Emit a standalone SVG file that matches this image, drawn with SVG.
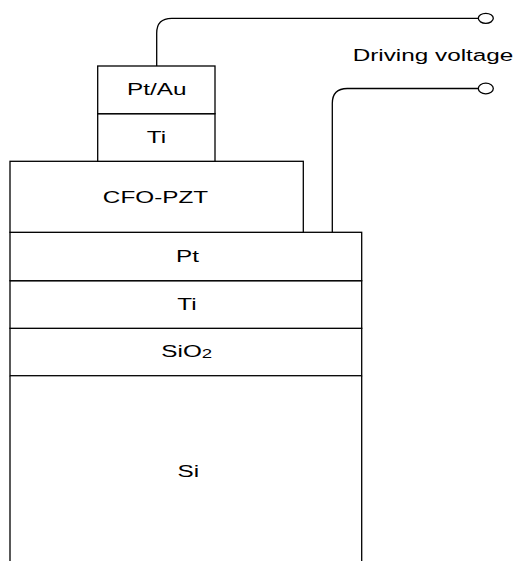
<svg xmlns="http://www.w3.org/2000/svg" width="518" height="561" viewBox="0 0 518 561">
<style>
.l{fill:#fff;stroke:#000;stroke-width:1.3}
.w{fill:none;stroke:#000;stroke-width:1.3}
.t{font-family:"Liberation Sans",Arial,sans-serif;font-size:17px;fill:#000;text-anchor:middle}
</style>
<rect width="518" height="561" fill="#fff"/>
<g id="connectors">
<path class="w" d="M156.7,66 V33.3 Q156.7,18.3 171.7,18.3 H478.3"/>
<ellipse class="w" cx="485.8" cy="18.3" rx="7.5" ry="5"/>
<path class="w" d="M332.3,232.3 V103.5 Q332.3,88.5 347.3,88.5 H478.3"/>
<ellipse class="w" cx="485.8" cy="88.5" rx="7.5" ry="5.3"/>
</g>
<g id="si">
<path class="l" d="M10,375.7 V561 M361.7,375.7 V561"/>
<text class="t" transform="translate(188.3,476.7) scale(1.43,1)">Si</text>
</g>
<g id="sio2">
<rect class="l" x="10" y="328.3" width="351.7" height="47.4"/>
<text class="t" transform="translate(186.7,356.7) scale(1.43,1)">SiO<tspan font-size="13" dy="1">2</tspan></text>
</g>
<g id="ti-bottom">
<rect class="l" x="10" y="280.7" width="351.7" height="47.6"/>
<text class="t" transform="translate(187,310) scale(1.43,1)">Ti</text>
</g>
<g id="pt">
<rect class="l" x="10" y="232.3" width="351.7" height="48.4"/>
<text class="t" transform="translate(187.5,262) scale(1.43,1)">Pt</text>
</g>
<g id="cfo-pzt">
<rect class="l" x="10" y="161.3" width="293.3" height="71"/>
<text class="t" transform="translate(155.5,203) scale(1.43,1)">CFO-PZT</text>
</g>
<g id="ti-top">
<rect class="l" x="97.7" y="113.7" width="117.3" height="47.6"/>
<text class="t" transform="translate(156.5,143.3) scale(1.43,1)">Ti</text>
</g>
<g id="pt-au">
<rect class="l" x="97.7" y="66" width="117.3" height="47.7"/>
<text class="t" transform="translate(156.7,95) scale(1.43,1)">Pt/Au</text>
</g>
<g id="label">
<text class="t" transform="translate(433,61) scale(1.43,1)">Driving voltage</text>
</g>
</svg>
